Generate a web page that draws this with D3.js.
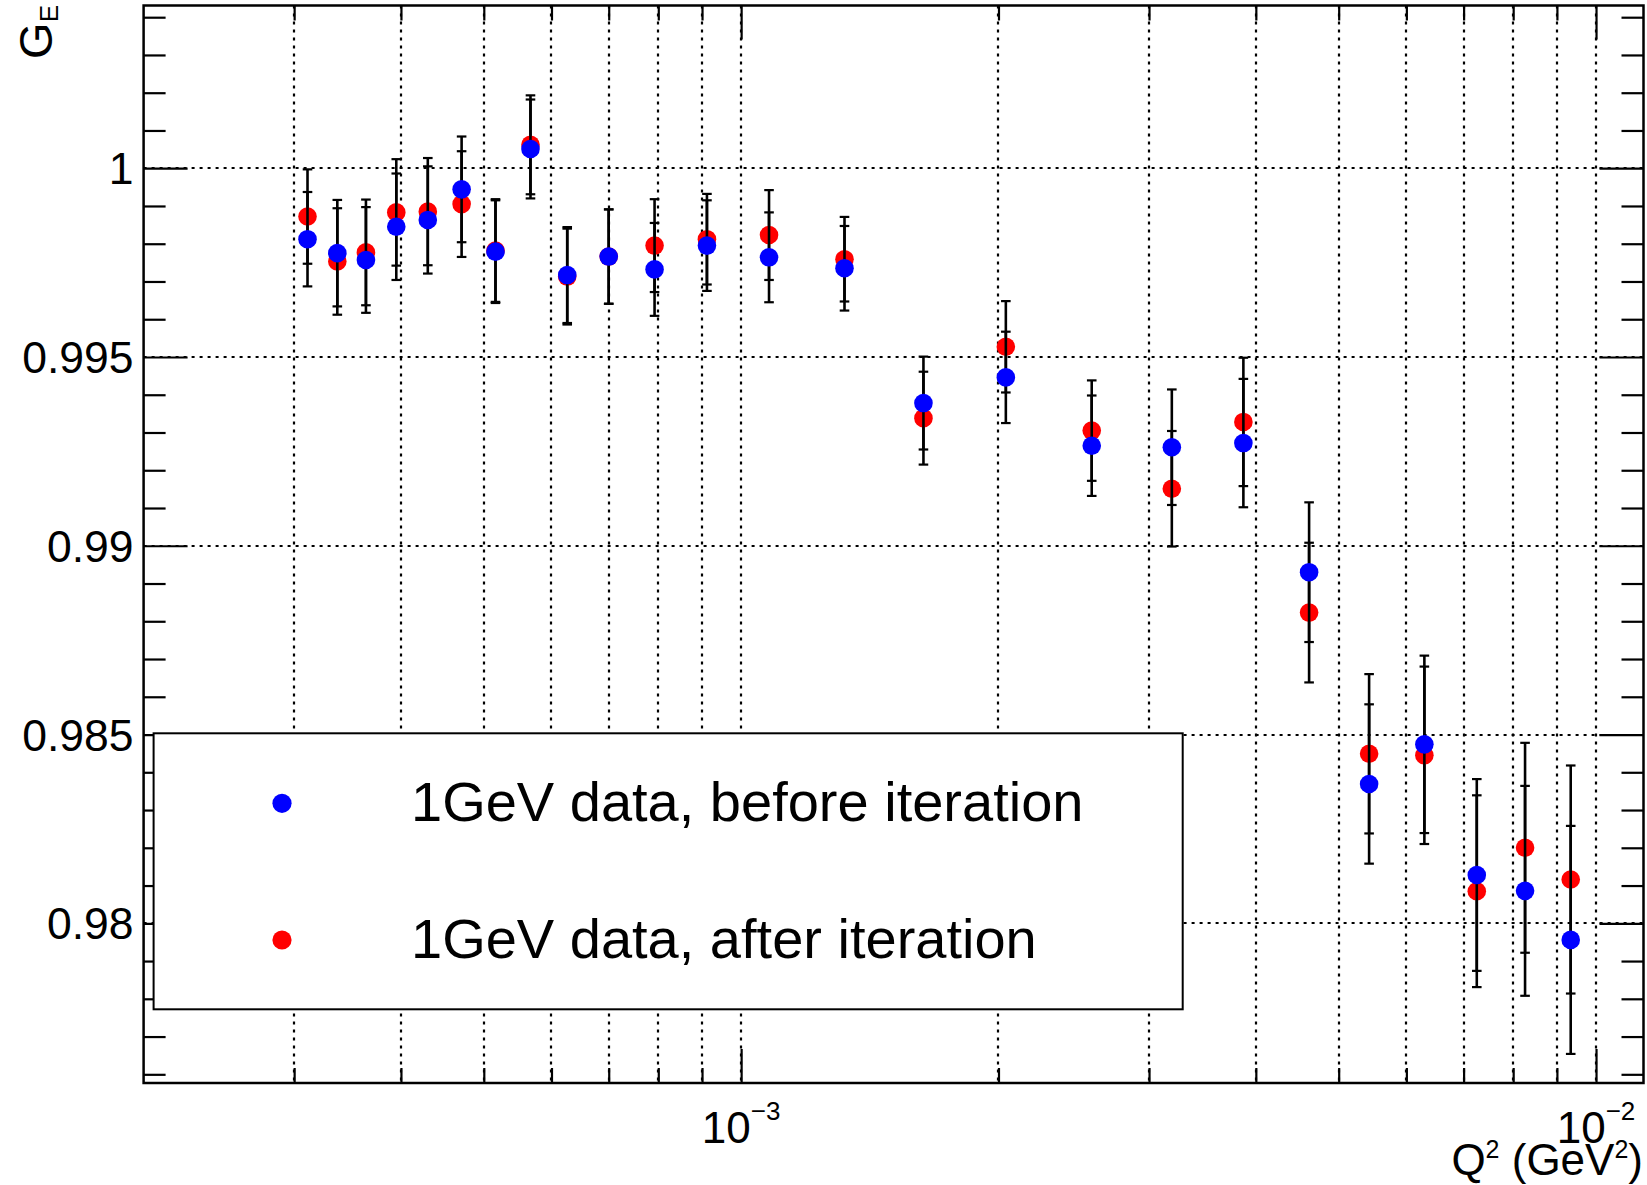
<!DOCTYPE html>
<html><head><meta charset="utf-8">
<script src="https://cdn.jsdelivr.net/npm/d3@7"></script>
<style>
body{margin:0;background:#fff;}
svg{display:block;}
text{font-family:"Liberation Sans",Arial,Helvetica,sans-serif;fill:#000;}
</style>
</head><body>
<svg id="chart" width="1647" height="1185"></svg>
<script>
// ---- data ----
const q2 = [3.11e-4, 3.37e-4, 3.64e-4, 3.95e-4, 4.30e-4, 4.71e-4, 5.16e-4, 5.67e-4, 6.26e-4, 7.00e-4,
            7.92e-4, 9.12e-4, 1.078e-3, 1.321e-3, 1.634e-3, 2.04e-3, 2.571e-3, 3.19e-3, 3.868e-3, 4.617e-3,
            5.427e-3, 6.298e-3, 7.253e-3, 8.26e-3, 9.341e-3];
const geBefore = [0.99812, 0.99775, 0.99757, 0.99845, 0.99863, 0.99944, 0.99779, 1.00051, 0.99717, 0.99766,
                  0.99732, 0.99795, 0.99764, 0.99735, 0.99378, 0.99446, 0.99265, 0.99261, 0.99272, 0.98930,
                  0.98369, 0.98474, 0.98128, 0.98086, 0.97956];
const geAfter  = [0.99872, 0.99753, 0.99777, 0.99883, 0.99885, 0.99905, 0.99782, 1.00062, 0.99713, 0.99766,
                  0.99795, 0.99812, 0.99823, 0.99759, 0.99338, 0.99527, 0.99305, 0.99151, 0.99328, 0.98823,
                  0.98449, 0.98445, 0.98085, 0.98200, 0.98116];
const geErr    = [0.00125, 0.00141, 0.00140, 0.00141, 0.00142, 0.00140, 0.00136, 0.00131, 0.00127, 0.00125,
                  0.00123, 0.00120, 0.00119, 0.00112, 0.00123, 0.00121, 0.00133, 0.00153, 0.00170, 0.00185,
                  0.00211, 0.00235, 0.00254, 0.00278, 0.00302];
const seriesNames = ["1GeV data, before iteration", "1GeV data, after iteration"];
const seriesColors = ["#0000ff", "#ff0000"];
const yMajorTicks = [0.98, 0.985, 0.99, 0.995, 1];
const yTickLabels = ["0.98", "0.985", "0.99", "0.995", "1"];
const xLabelTicks = [1e-3, 1e-2];
const xLabelExps = ["\u22123", "\u22122"];
const xDomain = [2e-4, 0.011364];
const yDomain = [0.97577, 1.00431];

// ---- layout ----
const L = 143.6, R = 1643.5, T = 5.5, B = 1083;
const svg = d3.select("#chart");
const x = d3.scaleLog().domain(xDomain).range([L, R]);
const y = d3.scaleLinear().domain(yDomain).range([B, T]);

const xTicksAll = x.ticks().filter(d => d > xDomain[0] * 1.01 && d < xDomain[1]);
const isMajorX = d => Math.abs(Math.log10(d) - Math.round(Math.log10(d))) < 1e-6;
const xMinor = xTicksAll.filter(d => !isMajorX(d));
const xMajor = xTicksAll.filter(isMajorX);
const yMinor = y.ticks(28).filter(d => !yMajorTicks.some(m => Math.abs(m - d) < 1e-7));

// ---- grid ----
const grid = svg.append("g").attr("stroke", "#000").attr("stroke-width", 2.2)
  .attr("stroke-dasharray", "3,5").attr("fill", "none");
grid.selectAll("line.v").data(xTicksAll).join("line")
  .attr("x1", d => Math.round(x(d))).attr("x2", d => Math.round(x(d))).attr("y1", T).attr("y2", B);
grid.selectAll("line.h").data(yMajorTicks).join("line")
  .attr("y1", d => Math.round(y(d))).attr("y2", d => Math.round(y(d))).attr("x1", L).attr("x2", R);

// ---- ticks via d3 axes ----
function tickAxis(axisFn, scale, vals, size, tx, ty) {
  const g = svg.append("g").attr("transform", `translate(${tx},${ty})`)
    .call(axisFn(scale).tickValues(vals).tickSize(size).tickFormat(""));
  g.select(".domain").remove();
  g.selectAll("line").attr("stroke", "#000").attr("stroke-width", 2.2);
  return g;
}
tickAxis(d3.axisLeft, y, yMajorTicks, -44, L, 0);
tickAxis(d3.axisLeft, y, yMinor, -22, L, 0);
tickAxis(d3.axisRight, y, yMajorTicks, -44, R, 0);
tickAxis(d3.axisRight, y, yMinor, -22, R, 0);
tickAxis(d3.axisBottom, x, xMajor, -34, 0, B);
tickAxis(d3.axisBottom, x, xMinor, -15, 0, B);
tickAxis(d3.axisTop, x, xMajor, -34, 0, T);
tickAxis(d3.axisTop, x, xMinor, -15, 0, T);

// ---- y tick labels ----
const yl = svg.append("g").attr("transform", `translate(${L},0)`)
  .call(d3.axisLeft(y).tickValues(yMajorTicks).tickSize(0).tickPadding(10)
    .tickFormat((d, i) => yTickLabels[i]));
yl.select(".domain").remove();
yl.selectAll("text").attr("font-size", 44.5).attr("dy", "0.35em")
  .style("font-family", '"Liberation Sans",Arial,sans-serif');

// ---- x tick labels (10^n) ----
const xl = svg.append("g");
xLabelTicks.forEach((v, i) => {
  const t = xl.append("text").attr("x", x(v)).attr("y", 1143).attr("text-anchor", "middle").attr("font-size", 44);
  t.append("tspan").text("10");
  t.append("tspan").attr("font-size", 26).attr("dy", -23).text(xLabelExps[i]);
});

// ---- axis titles ----
const xt = svg.append("text").attr("x", 1643).attr("y", 1175).attr("text-anchor", "end").attr("font-size", 44);
xt.append("tspan").text("Q");
xt.append("tspan").attr("font-size", 25).attr("dy", -17).text("2");
xt.append("tspan").attr("dy", 17).text(" (GeV");
xt.append("tspan").attr("font-size", 25).attr("dy", -17).text("2");
xt.append("tspan").attr("dy", 17).text(")");

const yt = svg.append("text").attr("transform", "translate(52,5) rotate(-90)")
  .attr("text-anchor", "end").attr("font-size", 47);
yt.append("tspan").text("G");
yt.append("tspan").attr("font-size", 26).attr("dy", 6).text("E");

// ---- legend ----
const lg = svg.append("g");
lg.append("rect").attr("x", 153.6).attr("y", 733.3).attr("width", 1029.1).attr("height", 276)
  .attr("fill", "#fff").attr("stroke", "#000").attr("stroke-width", 2);
const legY = [803.3, 940];
seriesNames.forEach((n, i) => {
  lg.append("circle").attr("cx", 282).attr("cy", legY[i]).attr("r", 9.6).attr("fill", seriesColors[i]);
  lg.append("text").attr("x", 411).attr("y", legY[i] + 18).attr("font-size", 56).text(n);
});

// ---- data: red (after) first, then blue (before) on top ----
const pts = q2.map((q, i) => ({q, b: geBefore[i], a: geAfter[i], e: geErr[i]}));
function drawSeries(key, color) {
  const g = svg.append("g");
  const eb = g.append("g").attr("stroke", "#000");
  eb.selectAll("line.bar").data(pts).join("line").attr("stroke-width", 2.6)
    .attr("x1", d => x(d.q)).attr("x2", d => x(d.q))
    .attr("y1", d => y(d[key] + d.e)).attr("y2", d => y(d[key] - d.e));
  ["hi", "lo"].forEach(s => {
    eb.selectAll("line.cap" + s).data(pts).join("line").attr("stroke-width", 2.2)
      .attr("x1", d => x(d.q) - 4.8).attr("x2", d => x(d.q) + 4.8)
      .attr("y1", d => y(d[key] + (s === "hi" ? d.e : -d.e)))
      .attr("y2", d => y(d[key] + (s === "hi" ? d.e : -d.e)));
  });
  g.selectAll("circle").data(pts).join("circle")
    .attr("cx", d => x(d.q)).attr("cy", d => y(d[key])).attr("r", 9.3).attr("fill", color);
}
drawSeries("a", seriesColors[1]);
drawSeries("b", seriesColors[0]);

// ---- frame ----
svg.append("rect").attr("x", L).attr("y", T).attr("width", R - L).attr("height", B - T)
  .attr("fill", "none").attr("stroke", "#000").attr("stroke-width", 2.5);
</script>
</body></html>
